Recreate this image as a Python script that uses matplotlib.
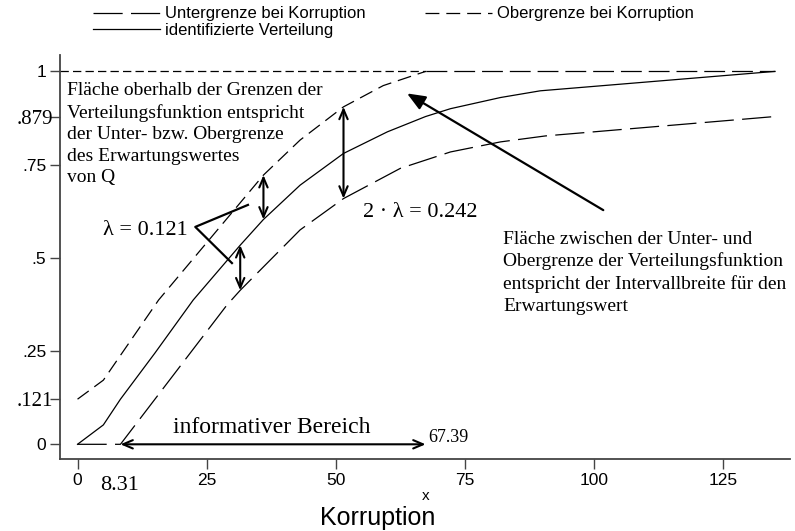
import numpy as np
import matplotlib as mpl
import matplotlib.pyplot as plt
from matplotlib.transforms import ScaledTranslation, blended_transform_factory

plt.rcParams['font.family'] = ['Liberation Sans', 'DejaVu Sans']
plt.rcParams['lines.scale_dashes'] = False

# identifizierte Verteilung
x_id = [0, 5, 8.31, 15, 22.4, 31.5, 36, 43.1, 51.5, 60, 67.39, 72.2, 81.9, 89.6, 135]
F_id = [0, 0.052, 0.121, 0.245, 0.387, 0.534, 0.603, 0.695, 0.78, 0.838, 0.879, 0.900, 0.930, 0.948, 1.0]
# Obergrenze bei Korruption
x_ob = [0, 5, 15.7, 36, 43.1, 51.5, 59.2, 67.39, 135]
F_ob = [0.121, 0.172, 0.387, 0.722, 0.816, 0.905, 0.962, 1.0, 1.0]
# Untergrenze bei Korruption
x_un = [0, 8.31, 28.9, 31.5, 43.1, 51.5, 62.5, 72.2, 81.9, 90.6, 135]
F_un = [0, 0, 0.373, 0.413, 0.575, 0.659, 0.74, 0.784, 0.811, 0.827, 0.879]

lam = 0.121
x_lo, x_hi = 8.31, 67.39
yticks = [0, 0.121, 0.25, 0.5, 0.75, 0.879, 1]
ylabels = ['0', '.121', '.25', '.5', '.75', '.879', '1']
xticks = [0, 25, 50, 75, 100, 125]

fig = plt.figure(figsize=(7.95, 5.31), dpi=100)
ax = fig.add_axes([0.0755, 0.1356, 0.9185, 0.7608])
ax.set_xlim(-3.39, 138.0)
ax.set_ylim(-0.0394, 1.044)

lw = 0.9
l_un, = ax.plot(x_un, F_un, color='k', lw=lw, linestyle=(0, (21, 6)))
l_id, = ax.plot(x_id, F_id, color='k', lw=lw)
n = x_ob.index(x_hi) + 1
l_ob, = ax.plot(x_ob[:n], F_ob[:n], color='k', lw=lw, linestyle=(0, (10, 5)))
ax.plot(x_ob[n - 1:], F_ob[n - 1:], color='k', lw=lw, linestyle=(0, (15, 5)))
ax.hlines(1, ax.get_xlim()[0], x_hi, color='k', lw=lw, linestyle=(0, (6, 3)))

for s in ['top', 'right']:
    ax.spines[s].set_visible(False)
for s in ['left', 'bottom']:
    ax.spines[s].set_linewidth(1.3)
    ax.spines[s].set_color('#444444')
ax.tick_params(direction='out', length=7, width=1, color='#444444', labelsize=12.5, pad=3)
ax.set_xticks(xticks)
ax.set_yticks(yticks, ylabels)
for t in ax.get_yticklabels():
    if t.get_text() in ('.121', '.879'):
        t.set_fontfamily(['Liberation Serif'])
        t.set_fontsize(15)
        t.set_transform(t.get_transform() + ScaledTranslation(5 / 72, 0, fig.dpi_scale_trans))

serif = ['Liberation Serif', 'DejaVu Serif']
arw = dict(arrowstyle='<->, head_length=0.7, head_width=0.3', color='k', lw=1.5, shrinkA=0, shrinkB=0)

# informativer Bereich
ax.annotate('', xy=(x_lo, 0), xytext=(x_hi, 0), arrowprops=arw)
ax.text(18.5, 0.03, 'informativer Bereich', family=serif, fontsize=17, va='baseline')
ax.text(67.9, 0.006, '67.39', family=serif, fontsize=13, va='baseline')

# lambda arrows
xa, xb, xc = 36, 31.5, 51.5
ax.annotate('', xy=(xa, np.interp(xa, x_ob, F_ob)), xytext=(xa, np.interp(xa, x_id, F_id)), arrowprops=arw)
ax.annotate('', xy=(xb, np.interp(xb, x_id, F_id)), xytext=(xb, np.interp(xb, x_un, F_un)), arrowprops=arw)
ax.annotate('', xy=(xc, np.interp(xc, x_ob, F_ob)), xytext=(xc, np.interp(xc, x_un, F_un)), arrowprops=arw)
ax.plot([33.0, 22.8, 29.9], [0.642, 0.583, 0.486], color='k', lw=1.6)
ax.text(4.95, 0.561, 'λ = 0.121', family=serif, fontsize=16, va='baseline')
ax.text(55.3, 0.610, '2 · λ = 0.242', family=serif, fontsize=16, va='baseline')

ax.text(-2.04, 0.972, 'Fläche oberhalb der Grenzen der\nVerteilungsfunktion entspricht\n'
        'der Unter- bzw. Obergrenze\ndes Erwartungswertes\nvon Q',
        family=serif, fontsize=14, va='top', linespacing=1.35)
ax.text(82.4, 0.573, 'Fläche zwischen der Unter- und\nObergrenze der Verteilungsfunktion\n'
        'entspricht der Intervallbreite für den\nErwartungswert',
        family=serif, fontsize=14, va='top', linespacing=1.35)
ax.annotate('', xy=(63.8, 0.941), xytext=(101.8, 0.628),
            arrowprops=dict(arrowstyle='-|>, head_length=1.1, head_width=0.45', color='k', lw=1.6,
                            shrinkA=0, shrinkB=0))

trans = blended_transform_factory(ax.transData, fig.transFigure)
ax.text(4.36, 0.077, '8.31', family=serif, fontsize=16, va='baseline', transform=trans)
ax.text(67.5, 0.066, 'x', fontsize=11, ha='center', va='center', transform=trans)
fig.text(0.4755, 0.012, 'Korruption', fontsize=18, ha='center', va='baseline')

fig.legend([l_un, l_id, l_ob], ['Untergrenze bei Korruption', 'identifizierte Verteilung',
                                'Obergrenze bei Korruption'],
           ncol=2, loc='upper left', bbox_to_anchor=(0.117, 0.988), frameon=False,
           fontsize=12, handlelength=4.0, handletextpad=0.3, columnspacing=3.6,
           labelspacing=0.08, borderpad=0, borderaxespad=0)

fig.savefig('out.png', dpi=100)
